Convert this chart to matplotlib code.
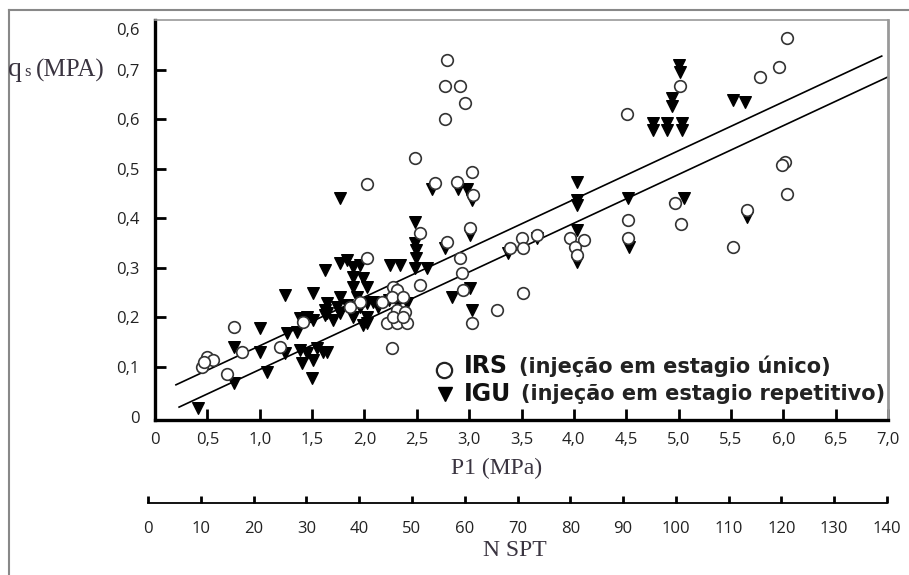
import matplotlib.pyplot as plt
import numpy as np

# IRS points (open circles)
irs_p1 = [0.45, 0.50, 0.55, 0.47, 0.69, 0.75, 0.83, 1.19, 1.41, 2.02, 2.48, 2.79,
          2.77, 2.91, 2.96, 2.77, 3.03, 2.88, 2.67, 3.04, 2.53, 2.79, 3.01, 2.02,
          2.91, 2.93, 2.53, 2.27, 2.94, 3.03, 3.27, 2.26, 2.31, 2.26, 2.17, 2.37,
          2.31, 2.39, 2.22, 2.31, 2.41, 2.27, 2.37, 1.96, 1.86, 3.39, 3.50, 3.51,
          3.65, 3.51, 4.51, 5.01, 5.78, 5.96, 6.04, 6.02, 5.99, 6.04, 5.65, 5.52,
          3.96, 4.10, 4.01, 4.03, 4.52, 4.52, 4.97, 5.02]
irs_qs = [0.100, 0.120, 0.115, 0.110, 0.086, 0.181, 0.130, 0.140, 0.190, 0.470, 0.521, 0.719,
          0.666, 0.666, 0.632, 0.600, 0.493, 0.473, 0.471, 0.447, 0.370, 0.352, 0.380, 0.320,
          0.319, 0.290, 0.265, 0.261, 0.255, 0.188, 0.215, 0.138, 0.255, 0.241, 0.231, 0.241,
          0.215, 0.211, 0.188, 0.188, 0.188, 0.200, 0.200, 0.231, 0.221, 0.340, 0.360, 0.340,
          0.366, 0.249, 0.610, 0.666, 0.684, 0.705, 0.763, 0.513, 0.507, 0.448, 0.416, 0.342,
          0.360, 0.356, 0.342, 0.326, 0.396, 0.360, 0.430, 0.388]

# IGU points (filled triangles)
igu_p1 = [0.41, 0.75, 0.75, 1.00, 1.00, 1.07, 1.24, 1.51, 1.62, 1.26, 1.36, 1.24,
          1.38, 1.45, 1.40, 1.51, 1.50, 1.60, 1.55, 1.64, 1.38, 1.51, 1.45, 1.62,
          1.62, 1.77, 1.77, 1.83, 1.89, 1.96, 1.89, 1.99, 1.89, 2.02, 1.93, 1.77,
          1.64, 1.74, 1.83, 1.96, 2.02, 2.08, 1.64, 1.77, 1.89, 2.02, 1.70, 1.99,
          2.02, 2.23, 2.31, 2.41, 2.13, 2.48, 2.48, 2.49, 2.49, 2.65, 2.89, 2.98,
          3.03, 2.77, 3.01, 2.24, 2.34, 2.48, 2.60, 3.01, 2.84, 3.03, 4.03, 4.03,
          4.03, 4.03, 4.03, 4.52, 4.53, 5.05, 3.37, 3.65, 5.00, 5.01, 4.94, 4.94,
          4.76, 4.89, 5.03, 4.76, 4.89, 5.03, 5.52, 5.63, 5.65]
igu_qs = [0.017, 0.068, 0.140, 0.178, 0.130, 0.090, 0.245, 0.249, 0.295, 0.168, 0.171, 0.128,
          0.134, 0.128, 0.108, 0.114, 0.078, 0.130, 0.138, 0.130, 0.199, 0.195, 0.200, 0.205,
          0.215, 0.440, 0.310, 0.316, 0.302, 0.306, 0.282, 0.280, 0.261, 0.261, 0.241, 0.241,
          0.229, 0.221, 0.225, 0.221, 0.229, 0.231, 0.209, 0.209, 0.200, 0.200, 0.195, 0.185,
          0.188, 0.235, 0.231, 0.229, 0.221, 0.392, 0.350, 0.336, 0.320, 0.460, 0.460, 0.460,
          0.437, 0.340, 0.367, 0.305, 0.305, 0.300, 0.300, 0.260, 0.241, 0.215, 0.473, 0.437,
          0.427, 0.376, 0.312, 0.440, 0.342, 0.440, 0.330, 0.360, 0.709, 0.695, 0.642, 0.626,
          0.592, 0.592, 0.592, 0.578, 0.578, 0.578, 0.638, 0.634, 0.403]

# two parallel regression lines
fit_slope = 0.0984
fit_intercepts = [0.0443, -0.0036]
fit_starts = [0.20, 0.23]
fit_ends = [6.94, 7.00]

p1_ticks = [0, 0.5, 1.0, 1.5, 2.0, 2.5, 3.0, 3.5, 4.0, 4.5, 5.0, 5.5, 6.0, 6.5, 7.0]
p1_labels = ['0', '0,5', '1,0', '1,5', '2,0', '2,5', '3,0', '3,5', '4,0', '4,5',
             '5,0', '5,5', '6,0', '6,5', '7,0']
qs_ticks = [0, 0.1, 0.2, 0.3, 0.4, 0.5, 0.6, 0.7, 0.782]
qs_labels = ['0', '0,1', '0,2', '0,3', '0,4', '0,5', '0,6', '0,7', '0,6']
nspt_ticks = [0, 10, 20, 30, 40, 50, 60, 70, 80, 90, 100, 110, 120, 130, 140]

W, H = 909, 575
fig = plt.figure(figsize=(W / 100, H / 100), dpi=100)

# grey frame around the picture
fig.add_artist(plt.Line2D([9 / W, 9 / W], [0, 1 - 10 / H], color='#888888', lw=1.5))
fig.add_artist(plt.Line2D([9 / W, 1], [1 - 10 / H, 1 - 10 / H], color='#888888', lw=1.5))

ax = fig.add_axes([155 / W, 1 - 420 / H, 733 / W, 400 / H])
ax.set_xlim(0, 7.0)
ax.set_ylim(-0.007, 0.8)

for b, x0, x1 in zip(fit_intercepts, fit_starts, fit_ends):
    xs = np.array([x0, x1])
    ax.plot(xs, b + fit_slope * xs, color='black', lw=1.2, zorder=2)

ax.scatter(igu_p1, igu_qs, marker='v', s=70, color='black', zorder=3)
ax.scatter(irs_p1, irs_qs, marker='o', s=70, facecolors='white',
           edgecolors='#333333', linewidths=1.2, zorder=4)

tick_font = dict(family='Open Sans', size=12)
ax.set_xticks(p1_ticks)
ax.set_xticklabels(p1_labels, **tick_font)
ax.set_yticks(qs_ticks)
ax.set_yticklabels(qs_labels, **tick_font)
ax.tick_params(direction='in', length=8, width=2, color='black', labelcolor='#222222')
ax.tick_params(axis='x', pad=9)
ax.tick_params(axis='y', pad=11)
for t in [ax.xaxis.get_major_ticks()[0], ax.yaxis.get_major_ticks()[0],
          ax.yaxis.get_major_ticks()[-1]]:
    t.tick1line.set_visible(False)

ax.spines['left'].set_linewidth(2.4)
ax.spines['bottom'].set_linewidth(2.4)
ax.spines['top'].set_color('#999999')
ax.spines['top'].set_linewidth(1.2)
ax.spines['right'].set_color('#999999')
ax.spines['right'].set_linewidth(2.0)

# legend drawn by hand: bold code + description
ax.plot([0.394], [0.125], transform=ax.transAxes, marker='o', ms=11, mfc='white',
        mec='#222222', mew=1.6, clip_on=False)
ax.plot([0.396], [0.066], transform=ax.transAxes, marker='v', ms=10, color='black',
        clip_on=False)
fig.text(464 / W, 1 - 366 / H, 'IRS', family='DejaVu Sans', weight='bold', size=17,
         va='center', color='#111111')
fig.text(519 / W, 1 - 366 / H, '(injeção em estagio único)', family='DejaVu Sans',
         weight='bold', size=15, va='center', color='#222222')
fig.text(464 / W, 1 - 394 / H, 'IGU', family='DejaVu Sans', weight='bold', size=17,
         va='center', color='#111111')
fig.text(521 / W, 1 - 394 / H, '(injeção em estagio repetitivo)', family='DejaVu Sans',
         weight='bold', size=15, va='center', color='#222222')

# axis titles in serif
label_color = '#3a3440'
fig.text(8 / W, 1 - 70 / H, 'q', family='Liberation Serif', size=20, va='center',
         color=label_color)
fig.text(24 / W, 1 - 72 / H, 's', family='Liberation Serif', size=12, va='center',
         color=label_color)
fig.text(36 / W, 1 - 70 / H, '(MPA)', family='Liberation Serif', size=18, va='center',
         color=label_color)
fig.text(497 / W, 1 - 468 / H, 'P1 (MPa)', family='Liberation Serif', size=17,
         ha='center', va='center', color=label_color)
fig.text(515 / W, 1 - 550 / H, 'N SPT', family='Liberation Serif', size=17,
         ha='center', va='center', color=label_color)

# second scale below: N SPT
ax2 = fig.add_axes([148 / W, 1 - 503 / H, 739 / W, 0.0001])
ax2.set_xlim(0, 140)
ax2.set_xticks(nspt_ticks)
ax2.set_xticklabels([str(v) for v in nspt_ticks], **tick_font)
ax2.set_yticks([])
ax2.patch.set_visible(False)
for side in ['top', 'left', 'right']:
    ax2.spines[side].set_visible(False)
ax2.spines['bottom'].set_linewidth(1.3)
ax2.tick_params(axis='x', direction='in', length=5, width=2, pad=13, labelcolor='#222222')

fig.savefig('out.png', dpi=100)
